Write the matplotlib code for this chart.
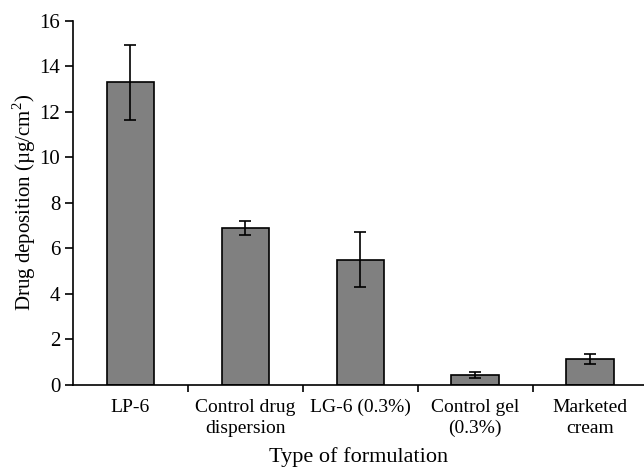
import numpy as np
import matplotlib
matplotlib.use("Agg")
import matplotlib.pyplot as plt

plt.rcParams['font.family'] = ['Liberation Serif', 'DejaVu Serif']
plt.rcParams['mathtext.fontset'] = 'custom'
plt.rcParams['mathtext.rm'] = 'Liberation Serif'

# donnees
formulations = ['LP-6', 'Control drug\ndispersion', 'LG-6 (0.3%)',
                'Control gel\n(0.3%)', 'Marketed\ncream']
deposition = [13.3, 6.9, 5.5, 0.45, 1.15]
erreurs = [1.65, 0.3, 1.2, 0.12, 0.22]

fig = plt.figure(figsize=(6.44, 4.69), dpi=100)
ax = fig.add_axes([0.113, 0.179, 0.887, 0.777])

x = np.arange(len(formulations))
ax.bar(x, deposition, width=0.41, color='#808080', edgecolor='black', linewidth=1.2,
       yerr=erreurs, error_kw=dict(ecolor='black', elinewidth=1.2, capsize=4, capthick=1.2))

ax.set_xlim(-0.5, 4.47)
ax.set_ylim(0, 16)
ax.set_yticks(range(0, 17, 2))
ax.set_xticks(x)
ax.set_xticklabels(formulations, fontsize=14, linespacing=1.3)
ax.set_xticks(np.arange(0.5, 4.5, 1), minor=True)
ax.tick_params(axis='x', which='major', length=0, pad=10)
ax.tick_params(axis='x', which='minor', length=5, width=1.2, direction='out')
ax.tick_params(axis='y', length=6, width=1.2, labelsize=15, direction='out', pad=3)

for s in ['top', 'right']:
    ax.spines[s].set_visible(False)
for s in ['left', 'bottom']:
    ax.spines[s].set_linewidth(1.2)

ax.set_ylabel('Drug deposition (µg/cm$^\\mathregular{2}$)', fontsize=15, labelpad=1)
ax.set_xlabel('Type of formulation', fontsize=16, labelpad=7)

plt.savefig('out.png', dpi=100)
